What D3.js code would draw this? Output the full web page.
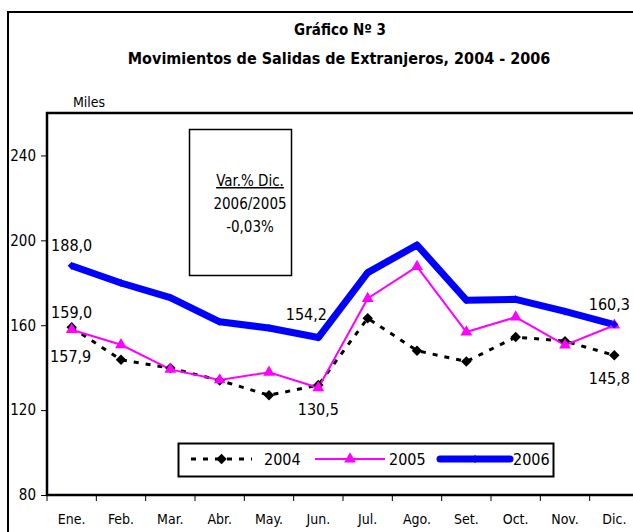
<!DOCTYPE html>
<html>
<head>
<meta charset="utf-8">
<script src="https://cdnjs.cloudflare.com/ajax/libs/d3/7.8.5/d3.min.js"></script>
<style>
  body { margin: 0; background: #fff; }
  text { font-family: 'Liberation Sans Narrow', 'DejaVu Sans Condensed', 'DejaVu Sans', sans-serif; font-stretch: condensed; fill: #000; }
</style>
</head>
<body>
<div id="chart"></div>
<script>
var months = [ 'Ene.', 'Feb.', 'Mar.', 'Abr.', 'May.', 'Jun.', 'Jul.', 'Ago.', 'Set.', 'Oct.', 'Nov.', 'Dic.' ];
var yTicks = [ 80, 120, 160, 200, 240 ];
var years = [ '2004', '2005', '2006' ];
var values2004 = [ 159.0, 143.7, 139.8, 134.0, 127.0, 131.8, 163.3, 148.0, 142.9, 154.4, 152.5, 145.8 ];
var values2005 = [ 157.9, 150.8, 139.2, 134.2, 137.8, 130.5, 172.6, 187.6, 156.8, 163.8, 150.6, 160.0 ];
var values2006 = [ 188.0, 179.9, 173.0, 161.6, 158.7, 154.2, 184.8, 197.8, 171.8, 172.2, 166.5, 160.3 ];
var noteLines = [ 'Var.% Dic.', '2006/2005', '-0,03%' ];

var chart = ( function() {

  var width = 633, height = 532;
  var plot = { left: 47, top: 113, right: 639, bottom: 495 };

  var xScale = d3.scaleBand(),
    yScale = d3.scaleLinear();

  var svg;

  function draw() {

    svg = d3.select( '#chart' ).append( 'svg' )
      .attr( 'width', width )
      .attr( 'height', height );

    // outer frame (cut by the window on right and bottom)
    svg.append( 'rect' )
      .attr( 'x', 8 ).attr( 'y', 12 )
      .attr( 'width', 700 ).attr( 'height', 600 )
      .attr( 'fill', 'none' )
      .attr( 'stroke', '#000' )
      .attr( 'stroke-width', 2 );

    svg.append( 'text' )
      .attr( 'x', 340 ).attr( 'y', 35 )
      .attr( 'text-anchor', 'middle' )
      .style( 'font-size', '15px' )
      .style( 'font-weight', 'bold' )
      .text( 'Gráfico Nº 3' );

    svg.append( 'text' )
      .attr( 'x', 339 ).attr( 'y', 64 )
      .attr( 'text-anchor', 'middle' )
      .style( 'font-size', '16px' )
      .style( 'font-weight', 'bold' )
      .text( 'Movimientos de Salidas de Extranjeros, 2004 - 2006' );

    svg.append( 'text' )
      .attr( 'x', 89 ).attr( 'y', 107 )
      .attr( 'text-anchor', 'middle' )
      .style( 'font-size', '14px' )
      .text( 'Miles' );

    xScale
      .domain( months )
      .range( [ plot.left, plot.right ] );

    yScale
      .domain( [ 80, 260 ] )
      .range( [ plot.bottom, plot.top ] );

    // plot frame
    svg.append( 'rect' )
      .attr( 'x', plot.left ).attr( 'y', plot.top )
      .attr( 'width', plot.right - plot.left )
      .attr( 'height', plot.bottom - plot.top )
      .attr( 'fill', 'none' )
      .attr( 'stroke', '#000' )
      .attr( 'stroke-width', 2.5 );

    var yAxis = svg.append( 'g' )
      .attr( 'transform', 'translate(' + plot.left + ',0)' )
      .call( d3.axisLeft( yScale ).tickValues( yTicks ).tickSize( 6 ).tickPadding( 5 ) );
    yAxis.select( '.domain' ).remove();
    yAxis.selectAll( 'text' ).style( 'font-size', '15px' ).style( 'font-family', null );

    var xAxis = svg.append( 'g' )
      .attr( 'transform', 'translate(0,' + plot.bottom + ')' )
      .call( d3.axisBottom( xScale ).tickSize( 0 ).tickPadding( 19 ) );
    xAxis.select( '.domain' ).remove();
    xAxis.selectAll( 'text' ).style( 'font-size', '14px' ).style( 'font-family', null );

    // ticks between categories
    svg.append( 'g' ).selectAll( 'line' )
      .data( months )
      .enter()
      .append( 'line' )
        .attr( 'x1', d => xScale( d ) )
        .attr( 'x2', d => xScale( d ) )
        .attr( 'y1', plot.bottom )
        .attr( 'y2', plot.bottom + 6 )
        .attr( 'stroke', '#000' )
        .attr( 'stroke-width', 1 );

    var cx = d => xScale( d ) + xScale.bandwidth() / 2;

    // note box
    svg.append( 'rect' )
      .attr( 'x', 189.5 ).attr( 'y', 129.5 )
      .attr( 'width', 102 ).attr( 'height', 146 )
      .attr( 'fill', '#fff' )
      .attr( 'stroke', '#000' )
      .attr( 'stroke-width', 1.5 );

    svg.append( 'g' ).selectAll( 'text' )
      .data( noteLines )
      .enter()
      .append( 'text' )
        .attr( 'x', 250 )
        .attr( 'y', ( d, i ) => 186 + i * 23 )
        .attr( 'text-anchor', 'middle' )
        .style( 'font-size', '15px' )
        .style( 'text-decoration', ( d, i ) => i === 0 ? 'underline' : null )
        .text( d => d );

    var line = d3.line()
      .x( ( d, i ) => cx( months[ i ] ) )
      .y( d => yScale( d ) );

    // 2004
    svg.append( 'path' )
      .datum( values2004 )
      .attr( 'd', line )
      .attr( 'fill', 'none' )
      .attr( 'stroke', '#000' )
      .attr( 'stroke-width', 3 )
      .attr( 'stroke-dasharray', '5,7' );

    // 2005
    svg.append( 'path' )
      .datum( values2005 )
      .attr( 'd', line )
      .attr( 'fill', 'none' )
      .attr( 'stroke', '#ff00ff' )
      .attr( 'stroke-width', 2 );

    // 2006
    svg.append( 'path' )
      .datum( values2006 )
      .attr( 'd', line )
      .attr( 'fill', 'none' )
      .attr( 'stroke', '#0000ff' )
      .attr( 'stroke-width', 7 )
      .attr( 'stroke-linejoin', 'round' );

    var diamond = d3.symbol().type( d3.symbolDiamond2 ).size( 70 ),
      triangle = d3.symbol().type( d3.symbolTriangle ).size( 60 ),
      smallDiamond = d3.symbol().type( d3.symbolDiamond2 ).size( 40 );

    svg.append( 'g' ).selectAll( 'path' )
      .data( values2004 )
      .enter()
      .append( 'path' )
        .attr( 'd', diamond )
        .attr( 'transform', ( d, i ) => 'translate(' + cx( months[ i ] ) + ',' + yScale( d ) + ')' )
        .attr( 'fill', '#000' );

    svg.append( 'g' ).selectAll( 'path' )
      .data( values2005 )
      .enter()
      .append( 'path' )
        .attr( 'd', triangle )
        .attr( 'transform', ( d, i ) => 'translate(' + cx( months[ i ] ) + ',' + yScale( d ) + ')' )
        .attr( 'fill', '#ff00ff' );

    svg.append( 'g' ).selectAll( 'path' )
      .data( values2006 )
      .enter()
      .append( 'path' )
        .attr( 'd', smallDiamond )
        .attr( 'transform', ( d, i ) => 'translate(' + cx( months[ i ] ) + ',' + yScale( d ) + ')' )
        .attr( 'fill', '#0000ff' );

    // data labels
    var fmt = v => d3.format( '.1f' )( v ).replace( '.', ',' );
    var labels = [
      { v: values2006, i: 0, dx: 0, dy: -20 },
      { v: values2004, i: 0, dx: 0, dy: -15 },
      { v: values2005, i: 0, dx: -1, dy: 27 },
      { v: values2006, i: 5, dx: -12, dy: -23 },
      { v: values2005, i: 5, dx: 0, dy: 22 },
      { v: values2006, i: 11, dx: -5, dy: -20 },
      { v: values2004, i: 11, dx: -5, dy: 23 }
    ];

    svg.append( 'g' ).selectAll( 'text' )
      .data( labels )
      .enter()
      .append( 'text' )
        .attr( 'x', d => cx( months[ d.i ] ) + d.dx )
        .attr( 'y', d => yScale( d.v[ d.i ] ) + d.dy )
        .attr( 'dy', '0.35em' )
        .attr( 'text-anchor', 'middle' )
        .style( 'font-size', '16px' )
        .text( d => fmt( d.v[ d.i ] ) );

    drawLegend( diamond, triangle, smallDiamond );

  }

  function drawLegend( diamond, triangle, smallDiamond ) {

    var lg = svg.append( 'g' );

    lg.append( 'rect' )
      .attr( 'x', 178.5 ).attr( 'y', 443.5 )
      .attr( 'width', 375 ).attr( 'height', 33 )
      .attr( 'fill', '#fff' )
      .attr( 'stroke', '#000' )
      .attr( 'stroke-width', 2 );

    var items = [
      { name: years[ 0 ], x1: 191, x2: 252, color: '#000', w: 3, dash: '5,7', sym: diamond, tx: 264 },
      { name: years[ 1 ], x1: 315, x2: 385, color: '#ff00ff', w: 2, dash: null, sym: triangle, tx: 389 },
      { name: years[ 2 ], x1: 440, x2: 510, color: '#0000ff', w: 7, dash: null, sym: smallDiamond, tx: 513 }
    ];
    var ly = 459;

    var it = lg.selectAll( '.item' )
      .data( items )
      .enter()
      .append( 'g' )
        .attr( 'class', 'item' );

    it.append( 'line' )
      .attr( 'x1', d => d.x1 ).attr( 'x2', d => d.x2 )
      .attr( 'y1', ly ).attr( 'y2', ly )
      .attr( 'stroke', d => d.color )
      .attr( 'stroke-width', d => d.w )
      .attr( 'stroke-linecap', d => d.w > 5 ? 'round' : 'butt' )
      .attr( 'stroke-dasharray', d => d.dash );

    it.append( 'path' )
      .attr( 'd', d => d.sym() )
      .attr( 'transform', d => 'translate(' + ( d.x1 + d.x2 ) / 2 + ',' + ly + ')' )
      .attr( 'fill', d => d.color );

    it.append( 'text' )
      .attr( 'x', d => d.tx )
      .attr( 'y', ly )
      .attr( 'dy', '0.35em' )
      .style( 'font-size', '16px' )
      .text( d => d.name );

  }

  return { draw: draw };
} )();

chart.draw();
</script>
</body>
</html>
